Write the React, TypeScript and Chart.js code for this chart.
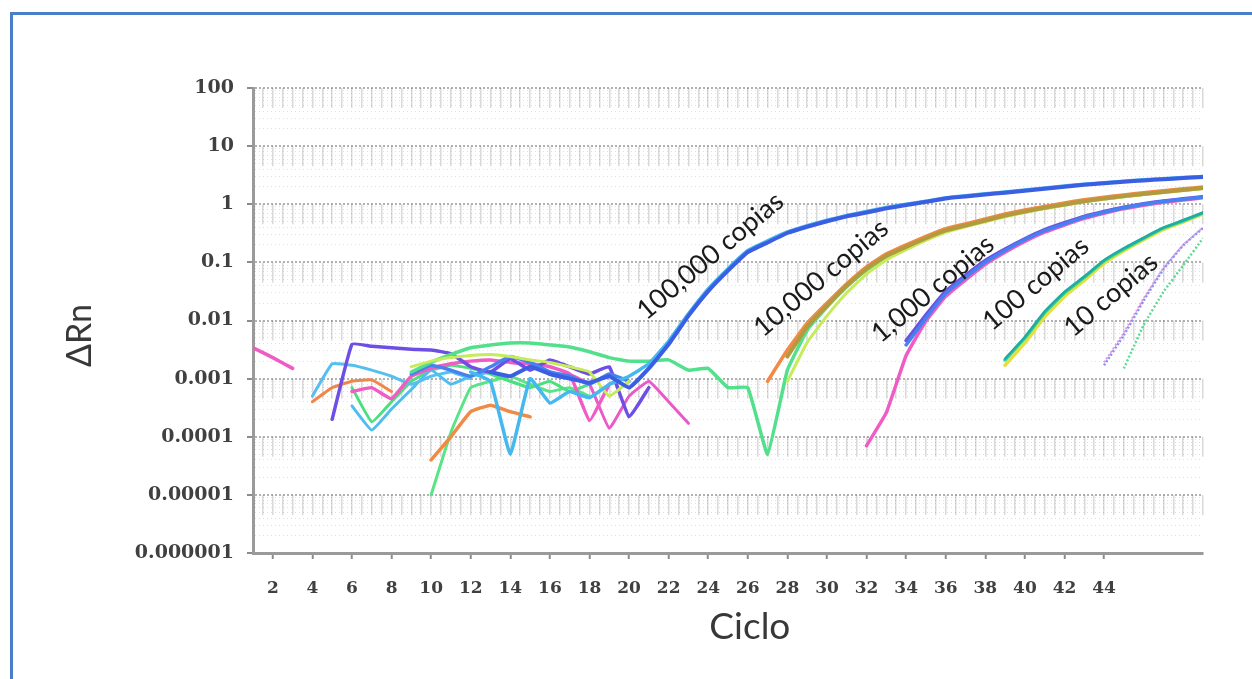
import React, { useEffect, useRef } from "react";
import { Chart, registerables } from "chart.js";

Chart.register(...registerables);

// ---------- data ----------
const cycles: number[] = [
  1, 2, 3, 4, 5, 6, 7, 8, 9, 10, 11, 12, 13, 14, 15, 16, 17, 18, 19, 20,
  21, 22, 23, 24, 25, 26, 27, 28, 29, 30, 31, 32, 33, 34, 35, 36, 37, 38, 39, 40,
  41, 42, 43, 44, 45, 46, 47, 48, 49,
];

const xTickLabels = ["2", "4", "6", "8", "10", "12", "14", "16", "18", "20", "22", "24", "26", "28", "30", "32", "34", "36", "38", "40", "42", "44"];
const yTickLabels = ["0.000001", "0.00001", "0.0001", "0.001", "0.01", "0.1", "1", "10", "100"];
const xAxisTitle = "Ciclo";
const yAxisTitle = "ΔRn";

// each series: first cycle + ΔRn values per cycle (null = not shown)
const blue100kStart = 13;
const blue100k = [0.0013, 0.0011, 0.0016, 0.0012, 0.001, 0.00085, 0.0011, 0.0007, 0.0015,
  0.0039, 0.012, 0.032, 0.072, 0.15, 0.22, 0.32, 0.41, 0.51, 0.62,
  0.72, 0.85, 0.97, 1.1, 1.26, 1.36, 1.47, 1.58, 1.71, 1.85,
  2.0, 2.17, 2.29, 2.44, 2.57, 2.69, 2.82, 2.94];

const cyan100kStart = 12;
const cyan100k = [0.0013, 0.0009, 0.00005, 0.001, 0.00038, 0.0006, 0.00047, 0.0008, 0.0011, 0.0018,
  0.0044, 0.013, 0.035, 0.078, 0.16, 0.235, 0.335, 0.43, 0.53, 0.64,
  0.75, 0.88, 1.0, 1.13, 1.29, 1.4, 1.51, 1.63, 1.76, 1.9,
  2.06, 2.22, 2.35, 2.5, 2.63, 2.76, 2.88, 3.0];

const orange10kStart = 10;
const orange10k = [0.00004, 0.0001, 0.00027, 0.00035, 0.00027, 0.00022,
  null, null, null, null, null, null, null, null, null, null, null,
  0.0009, 0.0031, 0.009, 0.02, 0.043, 0.084, 0.14, 0.2, 0.28, 0.38,
  0.46, 0.56, 0.68, 0.8, 0.92, 1.05, 1.2, 1.32, 1.45, 1.58,
  1.71, 1.84, 1.98];

const olive10kStart = 28;
const olive10k = [0.0024, 0.0078, 0.018, 0.04, 0.078, 0.13, 0.185, 0.26, 0.355, 0.43,
  0.525, 0.64, 0.75, 0.87, 0.99, 1.13, 1.25, 1.38, 1.5, 1.63, 1.76, 1.9];

const green10kStart = 9;
const green10k = [0.0013, 0.0019, 0.0026, 0.0034, 0.0038, 0.0041, 0.0041, 0.0038, 0.0035, 0.0029,
  0.0023, 0.002, 0.002, 0.0021, 0.0014, 0.0015, 0.0007, 0.0007, 0.00005,
  0.0014, 0.0068, 0.017, 0.038, 0.074, 0.125, 0.18, 0.255, 0.35, 0.425,
  0.52, 0.63, 0.74, 0.86, 0.98, 1.12, 1.24, 1.36, 1.49, 1.62, 1.75, 1.88];

const lime10kStart = 9;
const lime10k = [0.0016, 0.002, 0.0023, 0.0025, 0.0026, 0.0024, 0.0021, 0.0019, 0.0016, 0.0013, 0.0005, 0.0009,
  null, null, null, null, null, null, null,
  0.0009, 0.0042, 0.012, 0.03, 0.063, 0.11, 0.165, 0.24, 0.33, 0.41,
  0.5, 0.61, 0.72, 0.84, 0.96, 1.1, 1.22, 1.34, 1.47, 1.6, 1.73, 1.86];

const violet1kStart = 5;
const violet1k = [0.0002, 0.0039, 0.0036, 0.0034, 0.0032, 0.0031, 0.0027, 0.0016, 0.0013, 0.0022,
  0.0014, 0.0021, 0.0016, 0.0012, 0.0016, 0.00022, 0.0007,
  null, null, null, null, null, null, null, null, null, null, null, null,
  0.0045, 0.0125, 0.032, 0.06, 0.108, 0.17, 0.255, 0.365, 0.48, 0.62,
  0.75, 0.89, 1.02, 1.14, 1.24, 1.35];

const blue1kStart = 9;
const blue1k = [0.0012, 0.0017, 0.0014, 0.0011, 0.0016, 0.0024, 0.0019, 0.0013, 0.0011, 0.0008, 0.0012, 0.0009,
  null, null, null, null, null, null, null, null, null, null, null, null, null,
  0.0038, 0.011, 0.029, 0.055, 0.1, 0.16, 0.245, 0.35, 0.46, 0.6,
  0.73, 0.87, 1.0, 1.12, 1.22, 1.33];

const magenta1kStart = 1;
const magenta1k = [0.0034, 0.0023, 0.0015, null, null,
  0.0006, 0.0007, 0.00045, 0.0011, 0.0015, 0.0018, 0.002, 0.0021, 0.0019, 0.0018, 0.0016, 0.0012, 0.00019, 0.0008,
  null, null, null, null, null, null, null, null, null, null, null, null,
  0.00007, 0.00026, 0.0025, 0.0098, 0.026, 0.05, 0.093, 0.15, 0.23, 0.33,
  0.44, 0.57, 0.7, 0.84, 0.96, 1.08, 1.18, 1.29];

const magentaNoiseStart = 17;
const magentaNoise = [0.0012, 0.0008, 0.00014, 0.0005, 0.0009, 0.0004, 0.00017];

const cyanNoiseAStart = 4;
const cyanNoiseA = [0.0005, 0.0018, 0.0017, 0.0014, 0.0011, 0.0008, 0.0011, 0.0013, 0.001];

const cyanNoiseBStart = 6;
const cyanNoiseB = [0.00034, 0.00013, 0.0003, 0.00065, 0.0014, 0.0008, 0.0011, 0.0013];

const greenNoiseAStart = 6;
const greenNoiseA = [0.0007, 0.00018, 0.0004, 0.0009, 0.0014, 0.0017, 0.0015, 0.0012, 0.0009, 0.0007, 0.0009, 0.0006, 0.0008];

const greenNoiseBStart = 10;
const greenNoiseB = [0.00001, 0.00012, 0.0007, 0.0009, 0.0011, 0.0008, 0.0006, 0.0007, 0.0005];

const orangeNoiseStart = 4;
const orangeNoise = [0.0004, 0.0007, 0.0009, 0.00095, 0.0006];

const green100Start = 39;
const green100 = [0.0021, 0.005, 0.0138, 0.03, 0.055, 0.106, 0.17, 0.26, 0.39, 0.52, 0.71];
const yellow100Start = 39;
const yellow100 = [0.0017, 0.0041, 0.0115, 0.026, 0.049, 0.096, 0.158, 0.245, 0.37, 0.5, 0.68];
const teal100Start = 39;
const teal100 = [0.0022, 0.0052, 0.0142, 0.031, 0.057, 0.109, 0.175, 0.265, 0.395, 0.53, 0.72];

const lavender10Start = 44;
const lavender10 = [0.0017, 0.0056, 0.022, 0.076, 0.196, 0.39];
const pink10Start = 44;
const pink10 = [0.0019, 0.0062, 0.024, 0.08, 0.2, 0.4];
const green10Start = 45;
const green10 = [0.0015, 0.0083, 0.031, 0.089, 0.26];

const annotationTexts = ["100,000 copias", "10,000 copias", "1,000 copias", "100 copias", "10 copias"];
const annotationCycles = [24.1, 29.7, 35.35, 40.55, 44.35];
const annotationValues = [0.129, 0.054, 0.035, 0.043, 0.0275];

// ---------- styles ----------
type SeriesDef = { start: number; values: (number | null)[]; color: string; width: number; dash?: number[] };

const seriesDefs: SeriesDef[] = [
  { start: blue100kStart, values: blue100k, color: "#3b5fe2", width: 4 },
  { start: cyan100kStart, values: cyan100k, color: "#45b8f0", width: 3.5 },
  { start: olive10kStart, values: olive10k, color: "#b39a3e", width: 4 },
  { start: orange10kStart, values: orange10k, color: "#f08a45", width: 3.5 },
  { start: lime10kStart, values: lime10k, color: "#c6ec5a", width: 3 },
  { start: green10kStart, values: green10k, color: "#52e08c", width: 3.5 },
  { start: blue1kStart, values: blue1k, color: "#4582ee", width: 3.5 },
  { start: violet1kStart, values: violet1k, color: "#6e4fe6", width: 3.5 },
  { start: magenta1kStart, values: magenta1k, color: "#ee5cc4", width: 3.5 },
  { start: magentaNoiseStart, values: magentaNoise, color: "#e85ac8", width: 3 },
  { start: teal100Start, values: teal100, color: "#22aaa6", width: 2.5 },
  { start: green100Start, values: green100, color: "#34d68a", width: 3.5 },
  { start: yellow100Start, values: yellow100, color: "#e6df3e", width: 3.5 },
  { start: lavender10Start, values: lavender10, color: "#8f8ff0", width: 2.5, dash: [2, 2] },
  { start: pink10Start, values: pink10, color: "#dd9fe0", width: 2, dash: [2, 2] },
  { start: green10Start, values: green10, color: "#5fd896", width: 2.5, dash: [2, 2] },
  { start: cyanNoiseAStart, values: cyanNoiseA, color: "#55c0f0", width: 3 },
  { start: cyanNoiseBStart, values: cyanNoiseB, color: "#4fbdf0", width: 3 },
  { start: greenNoiseAStart, values: greenNoiseA, color: "#4be07e", width: 3 },
  { start: greenNoiseBStart, values: greenNoiseB, color: "#5ae487", width: 3 },
  { start: orangeNoiseStart, values: orangeNoise, color: "#f0874a", width: 3 },
];

const isDecade = (v: number) => {
  const l = Math.log10(v);
  return Math.abs(l - Math.round(l)) < 1e-9;
};

const textPlugin = {
  id: "customTexts",
  afterDatasetsDraw(chart: any) {
    const { ctx, chartArea, scales } = chart;
    ctx.save();
    ctx.textAlign = "center";
    ctx.textBaseline = "middle";
    ctx.fillStyle = "#1a1a1a";
    ctx.font = "27px Lato";
    annotationTexts.forEach((t, i) => {
      const x = scales.x.getPixelForValue(annotationCycles[i]);
      const y = scales.y.getPixelForValue(annotationValues[i]);
      ctx.save();
      ctx.translate(x, y);
      ctx.rotate((-40 * Math.PI) / 180);
      ctx.fillText(t, 0, 0);
      ctx.restore();
    });
    ctx.fillStyle = "#383838";
    ctx.font = "37px Lato";
    ctx.fillText(xAxisTitle, chartArea.left + (chartArea.right - chartArea.left) * 0.523, chartArea.bottom + 74);
    ctx.save();
    ctx.translate(chartArea.left - 173, (chartArea.top + chartArea.bottom) / 2 + 15);
    ctx.rotate(-Math.PI / 2);
    ctx.font = "34px Lato";
    ctx.fillText(yAxisTitle, 0, 0);
    ctx.restore();
    ctx.restore();
  },
};

export default function App() {
  const canvasRef = useRef<HTMLCanvasElement | null>(null);

  useEffect(() => {
    if (!canvasRef.current) return;
    const datasets = seriesDefs.map((s) => ({
      data: s.values.map((v, i) => ({ x: cycles[s.start - 1 + i], y: v })),
      borderColor: s.color,
      backgroundColor: s.color,
      borderWidth: s.width,
      borderDash: s.dash || [],
      pointRadius: 0,
      tension: 0.1,
      spanGaps: false,
      fill: false,
      borderCapStyle: (s.dash ? "butt" : "round") as any,
      borderJoinStyle: "round" as const,
    }));

    const chart = new Chart(canvasRef.current, {
      type: "line",
      data: { datasets },
      plugins: [textPlugin],
      options: {
        animation: false,
        responsive: false,
        devicePixelRatio: 1,
        layout: { padding: { left: 0, right: 49, top: 88, bottom: 66 } },
        plugins: { legend: { display: false }, tooltip: { enabled: false } },
        scales: {
          x: {
            type: "linear",
            min: 1,
            max: 49,
            afterBuildTicks: (scale: any) => {
              const t = [];
              for (let v = 1; v <= 49; v += 0.5) t.push({ value: v });
              scale.ticks = t;
            },
            afterFit: (scale: any) => {
              scale.height = 60;
            },
            ticks: {
              autoSkip: false,
              maxRotation: 0,
              padding: 19,
              color: "#404040",
              font: { family: "DejaVu Serif", size: 17, weight: "bold" },
              callback: (value: any) => (xTickLabels.includes(String(value)) ? String(value) : ""),
            },
            grid: {
              color: "rgba(0,0,0,0.15)",
              lineWidth: 1.5,
              tickLength: 6,
              tickWidth: 2,
              tickColor: (ctx: any) =>
                ctx.tick && xTickLabels.includes(String(ctx.tick.value)) ? "#8c8c8c" : "rgba(0,0,0,0)",
            },
            border: { display: true, color: "#9a9a9a", width: 3, dash: [20, 38.125] },
          },
          y: {
            type: "logarithmic",
            min: 0.000001,
            max: 100,
            afterBuildTicks: (scale: any) => {
              const decades = yTickLabels.map(Number);
              const t: { value: number }[] = [];
              decades.forEach((d, i) => {
                if (i < decades.length - 1) {
                  for (let m = 1; m <= 9; m++) t.push({ value: d * m });
                } else {
                  t.push({ value: d });
                }
              });
              scale.ticks = t;
            },
            afterFit: (scale: any) => {
              scale.width = 253;
            },
            ticks: {
              autoSkip: false,
              padding: 13,
              color: "#404040",
              font: { family: "DejaVu Serif", size: 19, weight: "bold" },
              callback: (value: any) =>
                isDecade(value) ? yTickLabels[Math.round(Math.log10(value)) + 6] : "",
            },
            grid: {
              color: (ctx: any) =>
                ctx.tick && isDecade(ctx.tick.value) ? "rgba(0,0,0,0.3)" : "rgba(0,0,0,0.12)",
              lineWidth: (ctx: any) => (ctx.tick && isDecade(ctx.tick.value) ? 2 : 1),
              tickLength: 6,
              tickWidth: 2,
              tickColor: (ctx: any) =>
                ctx.tick && isDecade(ctx.tick.value) ? "#8c8c8c" : "rgba(0,0,0,0)",
            },
            border: {
              display: true,
              color: "#9a9a9a",
              width: 3,
              dash: (ctx: any) => (ctx.tick && isDecade(ctx.tick.value) ? [2, 2] : [1, 3]),
            },
          },
        },
      } as any,
    });
    return () => chart.destroy();
  }, []);

  return (
    <div>
      <div
        style={{
          position: "fixed",
          left: 10,
          top: 12,
          right: 0,
          bottom: 0,
          borderTop: "3px solid #4a7ec9",
          borderLeft: "3px solid #4a7ec9",
          background: "#ffffff",
        }}
      />
      <canvas
        ref={canvasRef}
        width={1252}
        height={679}
        style={{ position: "fixed", left: 0, top: 0, width: 1252, height: 679, display: "block" }}
      />
    </div>
  );
}
